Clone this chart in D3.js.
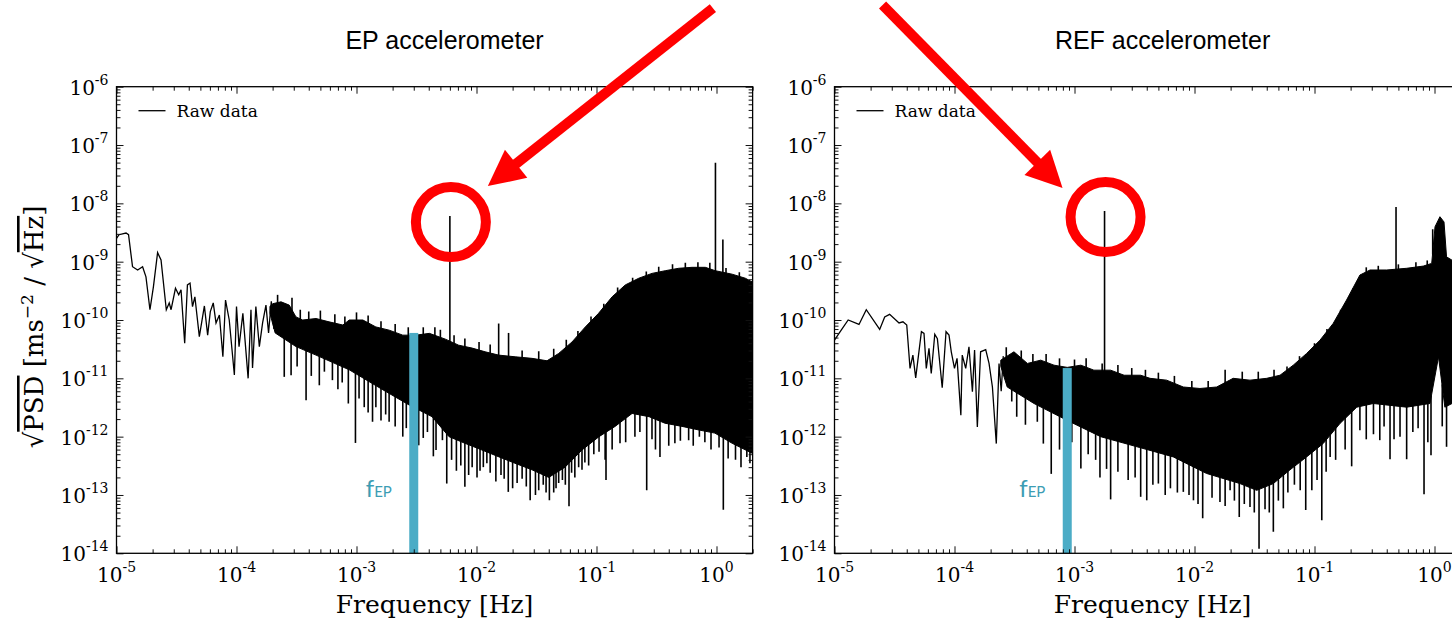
<!doctype html>
<html lang="en">
<head>
  <meta charset="utf-8">
  <title>EP / REF accelerometer spectra</title>
  <script src="https://cdn.jsdelivr.net/npm/d3@7"></script>
  <style>
    body { margin: 0; background: #fff; }
    svg { display: block; }
  </style>
</head>
<body>
  <div id="chart"></div>
  <script>
    const BLACK = "#000";
    const RED = "#ff0000";
    const AQUA = "#4bacc6";
    const AQUA_TEXT = "#3c9db4";

    // tick values and labels
    const xDecades = [1e-5, 1e-4, 1e-3, 1e-2, 1e-1, 1e0];
    const xTickLabels = ["-5", "-4", "-3", "-2", "-1", "0"];
    const yDecades = [1e-14, 1e-13, 1e-12, 1e-11, 1e-10, 1e-9, 1e-8, 1e-7, 1e-6];
    const yTickLabels = ["-14", "-13", "-12", "-11", "-10", "-9", "-8", "-7", "-6"];
    const panelTitles = ["EP accelerometer", "REF accelerometer"];

    // EP accelerometer: [frequency Hz, sqrt(PSD)]
    const epTrace = [
      [1.0e-5, 2.5e-9], [1.05e-5, 2.9e-9], [1.2e-5, 3.1e-9], [1.26e-5, 2.9e-9], [1.36e-5, 8.2e-10],
      [1.5e-5, 7.2e-10], [1.65e-5, 8.2e-10], [1.76e-5, 5.5e-10], [1.9e-5, 1.5e-10], [2.03e-5, 3.7e-10],
      [2.2e-5, 1.43e-9], [2.35e-5, 1.07e-9], [2.6e-5, 1.5e-10], [2.75e-5, 1.96e-10], [2.85e-5, 1.5e-10],
      [3.1e-5, 3.5e-10], [3.3e-5, 2.7e-10], [3.45e-5, 3.3e-10], [3.7e-5, 4.0e-11], [3.9e-5, 4.0e-10],
      [4.1e-5, 4.3e-10], [4.3e-5, 1.7e-10], [4.5e-5, 2.5e-10], [4.9e-5, 5.2e-11], [5.4e-5, 1.74e-10],
      [5.75e-5, 5.5e-11], [6.05e-5, 1.39e-10], [6.4e-5, 1.96e-10], [6.75e-5, 8.9e-11], [7.2e-5, 1.22e-10],
      [7.7e-5, 2.35e-11], [8.1e-5, 2.2e-10], [8.7e-5, 1.0e-10], [9.6e-5, 1.14e-11], [1.0e-4, 1.7e-10],
      [1.05e-4, 3.5e-11], [1.13e-4, 1.3e-10], [1.25e-4, 1.0e-11], [1.32e-4, 1.5e-10], [1.36e-4, 1.5e-11],
      [1.45e-4, 1.7e-10], [1.55e-4, 3.5e-11], [1.65e-4, 8.9e-11], [1.76e-4, 1.8e-10], [1.85e-4, 6.0e-11],
      [1.95e-4, 2.1e-10], [2.05e-4, 7.0e-11], [2.15e-4, 1.9e-10]
    ];
    const epUpper = [
      [1.9e-4, 1.7e-10], [2.0e-4, 1.9e-10], [2.35e-4, 2.05e-10], [2.75e-4, 1.8e-10], [3.13e-4, 1.13e-10],
      [3.56e-4, 1.0e-10], [4.6e-4, 1.06e-10], [5.9e-4, 9.3e-11], [7.7e-4, 8.2e-11], [8.7e-4, 1.0e-10],
      [1.13e-3, 1.0e-10], [1.45e-3, 7.6e-11], [1.87e-3, 6.7e-11], [2.43e-3, 5.5e-11], [3.13e-3, 5.5e-11],
      [4.05e-3, 5.9e-11], [5.5e-3, 4.7e-11], [7.1e-3, 3.7e-11], [9.2e-3, 3.3e-11], [1.18e-2, 2.85e-11],
      [1.53e-2, 2.5e-11], [2.1e-2, 2.34e-11], [2.9e-2, 2.2e-11], [3.87e-2, 2.0e-11], [4.84e-2, 2.67e-11],
      [6.25e-2, 4.2e-11], [8.07e-2, 7.6e-11], [0.104, 1.3e-10], [0.135, 2.5e-10], [0.174, 4.0e-10],
      [0.225, 5.2e-10], [0.29, 6.3e-10], [0.374, 7.0e-10], [0.484, 7.7e-10], [0.625, 8.0e-10],
      [0.807, 8.0e-10], [0.977, 7.0e-10], [1.35, 6.1e-10], [1.74, 5.2e-10], [1.98, 4.5e-10]
    ];
    const epLower = [
      [1.9e-4, 1.3e-10], [2.1e-4, 6.0e-11], [3.13e-4, 3.5e-11], [4.6e-4, 2.5e-11], [8.7e-4, 1.4e-11],
      [1.63e-3, 6.5e-12], [2.74e-3, 3.5e-12], [4.26e-3, 2.2e-12], [5.9e-3, 1.0e-12], [8.0e-3, 7.7e-13],
      [1.11e-2, 5.9e-13], [1.54e-2, 4.5e-13], [2.09e-2, 3.5e-13], [2.9e-2, 2.7e-13], [4.0e-2, 2.0e-13],
      [5.47e-2, 3.0e-13], [7.57e-2, 5.9e-13], [0.105, 1.0e-12], [0.143, 1.5e-12], [0.198, 2.5e-12],
      [0.274, 2.2e-12], [0.372, 1.7e-12], [0.516, 1.5e-12], [0.715, 1.3e-12], [0.97, 1.15e-12],
      [1.35, 7.7e-13], [1.98, 5.2e-13]
    ];
    const epDips = [
      [2.5e-4, 1.06e-11], [2.85e-4, 1.13e-11], [3.2e-4, 1.6e-11], [3.8e-4, 4.2e-12], [4.2e-4, 1.1e-11],
      [4.9e-4, 7.6e-12], [5.4e-4, 1.3e-11], [6.3e-4, 9.3e-12], [7.0e-4, 6.5e-12], [7.6e-4, 8.5e-12],
      [8.55e-4, 3.7e-12], [9.8e-4, 7.8e-13], [1.05e-3, 4.5e-12], [1.16e-3, 3.2e-12], [1.25e-3, 2.6e-12],
      [1.36e-3, 1.8e-12], [1.45e-3, 3.2e-12], [1.6e-3, 1.9e-12], [1.75e-3, 2.4e-12], [1.87e-3, 1.8e-12],
      [2.1e-3, 1.5e-12], [2.43e-3, 1.0e-12], [2.6e-3, 1.4e-12], [3.3e-3, 7.1e-13], [3.6e-3, 9.5e-13],
      [3.9e-3, 1.2e-12], [4.37e-3, 4.6e-13], [4.6e-3, 5.9e-13], [5.2e-3, 8.7e-13], [5.65e-3, 1.57e-13],
      [6.2e-3, 4.0e-13], [6.8e-3, 2.6e-13], [7.4e-3, 3.2e-13], [8.0e-3, 1.38e-13], [8.6e-3, 2.2e-13],
      [9.2e-3, 3.0e-13], [1.01e-2, 2.0e-13], [1.07e-2, 2.6e-13], [1.14e-2, 3.0e-13], [1.22e-2, 3.5e-13],
      [1.3e-2, 2.4e-13], [1.45e-2, 1.7e-13], [1.6e-2, 2.2e-13], [1.7e-2, 1.9e-13], [1.84e-2, 1.13e-13],
      [2.0e-2, 1.3e-13], [2.18e-2, 1.6e-13], [2.4e-2, 1.9e-13], [2.6e-2, 1.4e-13], [2.8e-2, 8.1e-14],
      [3.1e-2, 1.0e-13], [3.3e-2, 1.2e-13], [3.6e-2, 1.5e-13], [3.8e-2, 1.1e-13], [4.05e-2, 8.1e-14],
      [4.4e-2, 1.1e-13], [4.6e-2, 1.3e-13], [4.84e-2, 1.6e-13], [5.2e-2, 1.8e-13], [5.5e-2, 1.5e-13],
      [5.9e-2, 6.4e-14], [6.2e-2, 2.4e-13], [6.6e-2, 2.0e-13], [7.1e-2, 3.0e-13], [7.57e-2, 2.7e-13],
      [8.0e-2, 3.6e-13], [8.6e-2, 3.2e-13], [9.5e-2, 5.0e-13], [0.105, 5.5e-13], [0.118, 4.0e-13],
      [0.12, 1.8e-13], [0.135, 6.0e-13], [0.157, 7.7e-13], [0.175, 8.0e-13], [0.209, 1.0e-12],
      [0.23, 1.2e-12], [0.262, 1.2e-13], [0.29, 9.0e-13], [0.31, 6.0e-13], [0.338, 4.5e-13],
      [0.4, 7.0e-13], [0.45, 7.7e-13], [0.5, 8.5e-13], [0.586, 8.7e-13], [0.64, 7.0e-13],
      [0.72, 1.0e-12], [0.8, 8.0e-13], [0.9, 6.0e-13], [1.05, 6.5e-13], [1.14, 5.6e-14],
      [1.25, 4.2e-13], [1.44, 4.0e-13], [1.6, 3.0e-13], [1.79, 4.5e-13], [1.9, 3.5e-13]
    ];
    const epPeaks = [[6.0e-3, 6.05e-9], [1.53e-2, 8.7e-11], [1.85e-2, 6.0e-11], [0.98, 4.97e-8], [1.13, 2.4e-9]];
    const epTufts = [
      [2.2e-4, 2.7e-10], [2.9e-4, 2.4e-10], [3.4e-4, 1.5e-10], [4.0e-4, 1.4e-10], [5.0e-4, 1.45e-10],
      [6.6e-4, 1.25e-10], [8.0e-4, 1.15e-10], [1.0e-3, 1.35e-10], [1.25e-3, 1.2e-10], [1.6e-3, 9.5e-11],
      [2.1e-3, 8.5e-11], [2.7e-3, 7.5e-11], [3.6e-3, 7.5e-11], [4.5e-3, 7.5e-11], [5.0e-3, 6.8e-11],
      [6.5e-3, 5.5e-11], [8.0e-3, 4.8e-11], [1.05e-2, 4.2e-11], [1.3e-2, 3.8e-11], [2.4e-2, 3.0e-11],
      [3.3e-2, 2.9e-11], [4.4e-2, 3.2e-11], [5.6e-2, 4.6e-11], [7.0e-2, 6.5e-11], [9.0e-2, 1.15e-10],
      [0.115, 1.9e-10], [0.15, 3.6e-10], [0.2, 5.3e-10], [0.26, 6.8e-10], [0.33, 8.2e-10],
      [0.43, 9.0e-10], [0.55, 9.6e-10], [0.7, 9.8e-10], [0.88, 9.6e-10], [1.2, 7.8e-10], [1.55, 6.6e-10]
    ];
    const epFep = [3.0e-3, 6.0e-11];

    // REF accelerometer
    const refTrace = [
      [1.0e-5, 4.5e-11], [1.09e-5, 5.9e-11], [1.3e-5, 1.0e-10], [1.6e-5, 8.4e-11], [1.84e-5, 1.5e-10],
      [2.38e-5, 6.9e-11], [2.62e-5, 1.13e-10], [2.88e-5, 1.25e-10], [3.45e-5, 8.9e-11], [3.72e-5, 9.3e-11],
      [4.0e-5, 8.2e-11], [4.26e-5, 1.48e-11], [4.5e-5, 2.5e-11], [4.75e-5, 1.02e-11], [5.3e-5, 6.3e-11],
      [5.57e-5, 5.9e-11], [5.82e-5, 1.48e-11], [6.13e-5, 3.26e-11], [6.4e-5, 1.21e-11], [6.85e-5, 5.7e-11],
      [7.2e-5, 4.8e-11], [7.9e-5, 6.9e-12], [8.5e-5, 6.3e-11], [9.0e-5, 5.5e-11], [9.4e-5, 2.85e-11],
      [1.0e-4, 1.48e-11], [1.05e-4, 2.2e-11], [1.13e-4, 2.34e-12], [1.16e-4, 2.5e-11], [1.24e-4, 1.48e-11],
      [1.32e-4, 3.47e-11], [1.41e-4, 5.9e-12], [1.47e-4, 3.05e-11], [1.55e-4, 1.47e-12], [1.65e-4, 2.85e-11],
      [1.82e-4, 3.1e-11], [1.94e-4, 1.8e-11], [2.07e-4, 7.1e-12], [2.23e-4, 7.6e-13], [2.35e-4, 1.8e-11],
      [2.45e-4, 6.0e-12], [2.55e-4, 2.4e-11]
    ];
    const refUpper = [
      [2.43e-4, 2.05e-11], [3.13e-4, 2.85e-11], [4.05e-4, 1.8e-11], [5.23e-4, 2.05e-11],
      [6.75e-4, 1.68e-11], [8.7e-4, 1.54e-11], [1.13e-3, 1.68e-11], [1.45e-3, 1.38e-11], [2.0e-3, 1.38e-11],
      [2.59e-3, 1.13e-11], [3.56e-3, 1.13e-11], [4.26e-3, 1.0e-11], [5.86e-3, 9.3e-12], [8.07e-3, 7.1e-12],
      [1.11e-2, 6.7e-12], [1.53e-2, 7.1e-12], [2.1e-2, 1.0e-11], [2.9e-2, 9.3e-12], [4.0e-2, 1.0e-11],
      [5.16e-2, 1.13e-11], [6.65e-2, 1.68e-11], [8.6e-2, 2.67e-11], [0.111, 4.5e-11], [0.143, 8.7e-11],
      [0.185, 2.2e-10], [0.239, 5.9e-10], [0.29, 7.2e-10], [0.4, 7.2e-10], [0.586, 7.7e-10],
      [0.807, 8.4e-10], [0.948, 9.35e-10], [1.01, 3.97e-9], [1.11, 5.9e-9], [1.2, 4.8e-9],
      [1.26, 1.21e-9], [1.4, 1.06e-9], [2.0, 1.0e-9]
    ];
    const refLower = [
      [2.43e-4, 1.6e-11], [2.75e-4, 7.1e-12], [4.6e-4, 3.7e-12], [8.7e-4, 1.9e-12], [1.65e-3, 1.0e-12],
      [3.5e-3, 6.5e-13], [6.65e-3, 4.5e-13], [1.26e-2, 2.34e-13], [2.39e-2, 1.57e-13], [3.3e-2, 1.2e-13],
      [4.54e-2, 1.57e-13], [6.25e-2, 2.7e-13], [8.6e-2, 4.5e-13], [0.118, 7.6e-13], [0.163, 1.68e-12],
      [0.225, 3.2e-12], [0.309, 3.7e-12], [0.586, 3.2e-12], [0.917, 3.7e-12], [1.08, 2.34e-11],
      [1.22, 3.2e-12], [1.4, 3.7e-12], [2.0, 3.7e-12]
    ];
    const refDips = [
      [3.0e-4, 4.0e-12], [3.3e-4, 2.2e-12], [3.9e-4, 1.6e-12], [4.9e-4, 1.8e-12], [5.5e-4, 7.6e-13],
      [6.4e-4, 2.3e-13], [7.5e-4, 6.0e-13], [9.5e-4, 8.0e-13], [1.13e-3, 2.85e-13], [1.3e-3, 5.0e-13],
      [1.5e-3, 4.0e-13], [1.63e-3, 2.0e-13], [1.85e-3, 2.8e-13], [2.0e-3, 8.4e-14], [2.3e-3, 2.5e-13],
      [2.8e-3, 1.8e-13], [3.2e-3, 2.0e-13], [3.56e-3, 9.3e-14], [4.0e-3, 8.1e-14], [4.5e-3, 1.5e-13],
      [5.0e-3, 1.57e-13], [5.7e-3, 1.0e-13], [6.3e-3, 1.3e-13], [7.2e-3, 1.1e-13], [8.07e-3, 1.13e-13],
      [9.0e-3, 1.0e-13], [9.8e-3, 8.1e-14], [1.07e-2, 7.0e-14], [1.17e-2, 4.0e-14], [1.4e-2, 9.0e-14],
      [1.63e-2, 7.6e-14], [1.8e-2, 6.5e-14], [1.98e-2, 1.2e-13], [2.15e-2, 8.0e-14], [2.36e-2, 4.2e-14],
      [2.6e-2, 7.0e-14], [2.9e-2, 6.25e-14], [3.15e-2, 5.0e-14], [3.45e-2, 1.2e-14], [3.87e-2, 5.7e-14],
      [4.2e-2, 5.0e-14], [4.54e-2, 2.33e-14], [5.0e-2, 8.0e-14], [5.5e-2, 5.9e-14], [6.0e-2, 1.1e-13],
      [6.8e-2, 1.5e-13], [7.6e-2, 1.2e-13], [8.45e-2, 5.5e-14], [9.5e-2, 1.2e-13], [0.105, 1.8e-13],
      [0.115, 3.7e-14], [0.125, 2.5e-13], [0.135, 4.5e-13], [0.15, 4.0e-13], [0.18, 6.0e-13],
      [0.204, 3.1e-13], [0.239, 1.29e-12], [0.27, 9.0e-13], [0.31, 1.1e-12], [0.35, 8.7e-13],
      [0.38, 1.5e-12], [0.426, 4.1e-13], [0.46, 9.0e-13], [0.516, 1.0e-12], [0.586, 4.1e-13],
      [0.66, 1.2e-12], [0.73, 1.4e-12], [0.818, 1.03e-13], [0.88, 8.0e-13], [0.935, 4.8e-13],
      [1.16, 1.5e-12], [1.26, 6.7e-13]
    ];
    const refPeaks = [[1.78e-3, 7.4e-9], [0.478, 8.7e-9], [0.966, 3.6e-9]];
    const refTufts = [
      [2.7e-4, 3.4e-11], [3.6e-4, 3.0e-11], [4.5e-4, 2.6e-11], [5.8e-4, 2.6e-11], [7.5e-4, 2.2e-11],
      [1.0e-3, 2.1e-11], [1.25e-3, 2.2e-11], [1.7e-3, 1.8e-11], [2.3e-3, 1.7e-11], [3.0e-3, 1.5e-11],
      [3.9e-3, 1.4e-11], [5.0e-3, 1.25e-11], [6.8e-3, 1.1e-11], [9.5e-3, 9.0e-12], [1.3e-2, 9.0e-12],
      [1.8e-2, 1.4e-11], [2.5e-2, 1.3e-11], [3.4e-2, 1.3e-11], [4.6e-2, 1.4e-11], [5.9e-2, 1.6e-11],
      [7.5e-2, 2.4e-11], [0.1, 4.0e-11], [0.127, 7.0e-11], [0.165, 1.5e-10], [0.21, 3.5e-10],
      [0.27, 8.0e-10], [0.34, 8.5e-10], [0.5, 9.0e-10], [0.7, 9.8e-10], [0.87, 1.05e-9]
    ];
    const refFep = [8.7e-4, 1.5e-11];

    // Layout
    const w = 1452;
    const h = 621;
    const plotTop = 86.7;
    const plotBottom = 553.3;
    const decadePx = 120;
    const xDomain = [1e-5, 2];
    const yDomain = [1e-14, 1e-6];

    const panels = [
      { x0: 116.5, title: panelTitles[0], trace: epTrace, upper: epUpper, lower: epLower,
        dips: epDips, peaks: epPeaks.concat(epTufts), fep: epFep, callout: { start: [262, -214], tip: [37, -36] } },
      { x0: 834.5, title: panelTitles[1], trace: refTrace, upper: refUpper, lower: refLower,
        dips: refDips, peaks: refPeaks.concat(refTufts), fep: refFep, callout: { start: [-223, -212], tip: [-43, -29] } }
    ];

    const svg = d3.select("#chart")
      .append("svg")
      .attr("width", w)
      .attr("height", h);

    // log-log interpolation along an envelope, used to find the foot of a spike
    function envAt(env, f) {
      const i = d3.bisector(d => d[0]).right(env, f);
      if (i <= 0) return env[0][1];
      if (i >= env.length) return env[env.length - 1][1];
      const [f0, v0] = env[i - 1];
      const [f1, v1] = env[i];
      const t = Math.log(f / f0) / Math.log(f1 / f0);
      return Math.exp(Math.log(v0) + t * Math.log(v1 / v0));
    }

    const isDecade = v => Math.abs(Math.log10(v) - Math.round(Math.log10(v))) < 1e-6;

    function addPowerLabel(sel, exponent) {
      sel.append("tspan").text("10");
      sel.append("tspan")
        .attr("dy", -10)
        .style("font-size", "14px")
        .text(exponent);
    }

    const callouts = [];

    panels.forEach((p, idx) => {
      const width = decadePx * Math.log10(xDomain[1] / xDomain[0]);
      const x = d3.scaleLog().domain(xDomain).range([p.x0, p.x0 + width]);
      const y = d3.scaleLog().domain(yDomain).range([plotBottom, plotTop]);
      const g = svg.append("g");

      g.append("clipPath")
        .attr("id", "clip" + idx)
        .append("rect")
        .attr("x", p.x0)
        .attr("y", plotTop)
        .attr("width", width)
        .attr("height", plotBottom - plotTop);

      const plot = g.append("g").attr("clip-path", `url(#clip${idx})`);
      const line = d3.line().x(d => x(d[0])).y(d => y(d[1]));

      // dense noise band
      const band = p.upper.concat(p.lower.slice().reverse());
      plot.append("path")
        .attr("d", line(band) + "Z")
        .style("fill", BLACK)
        .style("stroke", BLACK)
        .style("stroke-width", 1);

      // low frequency trace
      plot.append("path")
        .datum(p.trace)
        .attr("d", line)
        .style("fill", "none")
        .style("stroke", BLACK)
        .style("stroke-width", 1.3);

      // downward spikes
      plot.selectAll(".dip")
        .data(p.dips)
        .join("line")
        .attr("class", "dip")
        .attr("x1", d => x(d[0]))
        .attr("x2", d => x(d[0]))
        .attr("y1", d => y(envAt(p.lower, d[0])) - 2)
        .attr("y2", d => y(d[1]))
        .style("stroke", BLACK)
        .style("stroke-width", 1.6);

      // upward lines and small tufts on the upper edge
      plot.selectAll(".peak")
        .data(p.peaks)
        .join("line")
        .attr("class", "peak")
        .attr("x1", d => x(d[0]))
        .attr("x2", d => x(d[0]))
        .attr("y1", d => y(envAt(p.upper, d[0])) + 2)
        .attr("y2", d => y(d[1]))
        .style("stroke", BLACK)
        .style("stroke-width", 1.6);

      // f_EP marker
      plot.append("rect")
        .attr("x", x(p.fep[0]) - 4.5)
        .attr("y", y(p.fep[1]))
        .attr("width", 9)
        .attr("height", plotBottom - y(p.fep[1]))
        .style("fill", AQUA);

      const fepText = g.append("text")
        .attr("x", x(p.fep[0]) - 48)
        .attr("y", y(1e-13) + 2)
        .style("font-family", "Lato, 'Open Sans', sans-serif")
        .style("fill", AQUA_TEXT);
      fepText.append("tspan").style("font-size", "24px").text("f");
      fepText.append("tspan").style("font-size", "15px").text("EP");

      // ticks on all four sides, pointing inwards
      const xMinor = x.ticks().filter(v => !isDecade(v));
      const yMinor = y.ticks().filter(v => !isDecade(v));
      const tickSets = [
        [d3.axisBottom, x, `translate(0, ${plotBottom})`, xDecades, xMinor],
        [d3.axisTop, x, `translate(0, ${plotTop})`, xDecades, xMinor],
        [d3.axisLeft, y, `translate(${p.x0}, 0)`, yDecades, yMinor],
        [d3.axisRight, y, `translate(${p.x0 + width}, 0)`, yDecades, yMinor]
      ];
      tickSets.forEach(([axisFn, scale, transform, major, minor]) => {
        [[major, 7], [minor, 4]].forEach(([values, size]) => {
          g.append("g")
            .attr("transform", transform)
            .call(axisFn(scale).tickValues(values).tickSizeInner(-size).tickSizeOuter(0).tickFormat(() => ""))
            .call(a => a.select(".domain").remove())
            .call(a => a.selectAll("line").style("stroke", "#111").style("stroke-width", 1));
        });
      });

      g.append("rect")
        .attr("x", p.x0)
        .attr("y", plotTop)
        .attr("width", width)
        .attr("height", plotBottom - plotTop)
        .style("fill", "none")
        .style("stroke", BLACK)
        .style("stroke-width", 1.3);

      // tick labels
      g.selectAll(".xlab")
        .data(xDecades)
        .join("text")
        .attr("class", "xlab")
        .attr("x", d => x(d))
        .attr("y", plotBottom + 28.5)
        .attr("text-anchor", "middle")
        .style("font-family", "'DejaVu Serif', serif")
        .style("font-size", "20px")
        .each(function (d, i) { addPowerLabel(d3.select(this), xTickLabels[i]); });

      g.selectAll(".ylab")
        .data(yDecades)
        .join("text")
        .attr("class", "ylab")
        .attr("x", p.x0 - 8)
        .attr("y", d => y(d) + 8)
        .attr("text-anchor", "end")
        .style("font-family", "'DejaVu Serif', serif")
        .style("font-size", "20px")
        .each(function (d, i) { addPowerLabel(d3.select(this), yTickLabels[i]); });

      // legend
      g.append("line")
        .attr("x1", p.x0 + 22)
        .attr("x2", p.x0 + 49)
        .attr("y1", plotTop + 24)
        .attr("y2", plotTop + 24)
        .style("stroke", BLACK)
        .style("stroke-width", 1.3);
      g.append("text")
        .attr("x", p.x0 + 60)
        .attr("y", plotTop + 30)
        .style("font-family", "'DejaVu Serif', serif")
        .style("font-size", "17px")
        .text("Raw data");

      // titles
      g.append("text")
        .attr("x", p.x0 + width / 2 + 10)
        .attr("y", 49)
        .attr("text-anchor", "middle")
        .style("font-family", "'Liberation Sans', Arial, sans-serif")
        .style("font-size", "25px")
        .text(p.title);

      g.append("text")
        .attr("x", p.x0 + width / 2)
        .attr("y", 613)
        .attr("text-anchor", "middle")
        .style("font-family", "'DejaVu Serif', serif")
        .style("font-size", "25px")
        .text("Frequency [Hz]");

      const pk = p.peaks[0];
      callouts.push({ cx: x(pk[0]) + 1, cy: y(pk[1]) + 6, c: p.callout });
    });

    // y axis label
    const yLab = svg.append("text")
      .attr("transform", "translate(43, 327) rotate(-90)")
      .attr("text-anchor", "middle")
      .style("font-family", "'DejaVu Serif', serif")
      .style("font-size", "26px");
    yLab.append("tspan").text("√");
    yLab.append("tspan").style("text-decoration", "overline").text("PSD");
    yLab.append("tspan").text(" [ms");
    yLab.append("tspan").attr("dy", -10).style("font-size", "17px").text("−2");
    yLab.append("tspan").attr("dy", 10).text(" / √");
    yLab.append("tspan").style("text-decoration", "overline").text("Hz");
    yLab.append("tspan").text("]");

    // red call-outs
    callouts.forEach(({ cx, cy, c }) => {
      svg.append("circle")
        .attr("cx", cx)
        .attr("cy", cy)
        .attr("r", 35)
        .style("fill", "none")
        .style("stroke", RED)
        .style("stroke-width", 10);

      const start = [cx + c.start[0], cy + c.start[1]];
      const tip = [cx + c.tip[0], cy + c.tip[1]];
      const dx = tip[0] - start[0];
      const dy = tip[1] - start[1];
      const len = Math.hypot(dx, dy);
      const ux = dx / len, uy = dy / len;
      const headLen = 36, headHalf = 18;
      const base = [tip[0] - ux * headLen, tip[1] - uy * headLen];

      svg.append("line")
        .attr("x1", start[0])
        .attr("y1", start[1])
        .attr("x2", base[0] + ux * 2)
        .attr("y2", base[1] + uy * 2)
        .style("stroke", RED)
        .style("stroke-width", 10);
      svg.append("polygon")
        .attr("points", [tip,
          [base[0] - uy * headHalf, base[1] + ux * headHalf],
          [base[0] + uy * headHalf, base[1] - ux * headHalf]].map(pt => pt.join(",")).join(" "))
        .style("fill", RED);
    });
  </script>
</body>
</html>
